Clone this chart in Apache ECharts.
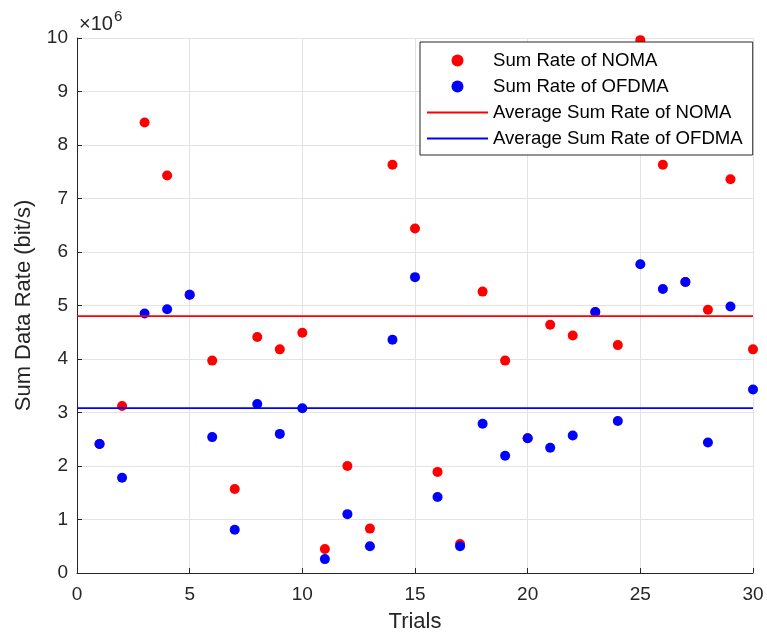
<!DOCTYPE html>
<html>
<head>
<meta charset="utf-8">
<script src="https://cdn.jsdelivr.net/npm/echarts@6/dist/echarts.min.js"></script>
<style>
html,body{margin:0;padding:0;background:#fff;}
#chart{width:767px;height:639px;}
</style>
</head>
<body>
<div id="chart"></div>
<script>
// Trials 1..30
const trials = [1,2,3,4,5,6,7,8,9,10,11,12,13,14,15,16,17,18,19,20,21,22,23,24,25,26,27,28,29,30];
// Sum rate values (×10^6 bit/s)
const nomaRate = [2.41,3.12,8.42,7.43,5.20,3.97,1.57,4.41,4.18,4.49,0.45,2.00,0.83,7.63,6.44,1.89,0.54,5.26,3.97,2.52,4.64,4.44,4.88,4.26,9.96,7.63,5.44,4.92,7.36,4.18];
const ofdmaRate = [2.41,1.78,4.85,4.93,5.20,2.54,0.81,3.16,2.60,3.08,0.26,1.10,0.50,4.36,5.53,1.42,0.50,2.79,2.19,2.52,2.34,2.57,4.88,2.84,5.77,5.31,5.44,2.44,4.98,3.43];
// Average lines (×10^6 bit/s)
const avgNoma = 4.80;
const avgOfdma = 3.08;
const xRange = [0, 30];
const scale = 1e6;

const seriesNames = ['Sum Rate of NOMA','Sum Rate of OFDMA','Average Sum Rate of NOMA','Average Sum Rate of OFDMA'];

const font = '"Liberation Sans", Arial, Helvetica, sans-serif';
const textColor = '#262626';
const lineIcon = 'path://M0,0H60V2H0Z';

const chart = echarts.init(document.getElementById('chart'));
chart.setOption({
  animation: false,
  backgroundColor: '#ffffff',
  textStyle: {fontFamily: font, color: textColor},
  grid: {left: 77, right: 14, top: 38, bottom: 66, containLabel: false},
  graphic: [
    {type: 'text', left: 79, top: 14, style: {text: '×10', font: '20px ' + font, fill: textColor}},
    {type: 'text', left: 114, top: 9, style: {text: '6', font: '15px ' + font, fill: textColor}}
  ],
  legend: {
    orient: 'vertical',
    left: 420, top: 42,
    padding: [9, 10, 7, 7],
    backgroundColor: '#ffffff',
    borderColor: '#262626',
    borderWidth: 1,
    itemWidth: 61, itemHeight: 12, itemGap: 7,
    textStyle: {fontSize: 18.6, fontFamily: font, color: '#000', lineHeight: 18},
    data: [
      {name: seriesNames[0], icon: 'circle'},
      {name: seriesNames[1], icon: 'circle'},
      {name: seriesNames[2], icon: lineIcon},
      {name: seriesNames[3], icon: lineIcon}
    ]
  },
  xAxis: {
    type: 'value', min: xRange[0], max: xRange[1], interval: 5,
    name: 'Trials', nameLocation: 'middle', nameGap: 38,
    nameTextStyle: {fontSize: 22, color: textColor, fontFamily: font},
    axisLine: {show: true, onZero: false, lineStyle: {color: '#262626', width: 1}},
    axisTick: {show: true, inside: true, length: 5, lineStyle: {color: '#262626'}},
    axisLabel: {fontSize: 19, color: textColor, margin: 12, fontFamily: font},
    splitLine: {show: true, lineStyle: {color: '#e3e3e3', width: 1}}
  },
  yAxis: {
    type: 'value', min: 0, max: 10 * scale, interval: scale,
    name: 'Sum Data Rate (bit/s)', nameLocation: 'middle', nameGap: 42,
    nameTextStyle: {fontSize: 22, color: textColor, fontFamily: font},
    axisLine: {show: true, onZero: false, lineStyle: {color: '#262626', width: 1}},
    axisTick: {show: true, inside: true, length: 5, lineStyle: {color: '#262626'}},
    axisLabel: {fontSize: 19, color: textColor, margin: 9, fontFamily: font,
      formatter: v => String(Math.round(v / scale))},
    splitLine: {show: true, lineStyle: {color: '#e3e3e3', width: 1}}
  },
  series: [
    {
      name: seriesNames[0], type: 'scatter', symbol: 'circle', symbolSize: 10,
      itemStyle: {color: '#ff0000', opacity: 1},
      data: trials.map((t, i) => [t, nomaRate[i] * scale]), z: 2
    },
    {
      name: seriesNames[1], type: 'scatter', symbol: 'circle', symbolSize: 10,
      itemStyle: {color: '#0000ff', opacity: 1},
      data: trials.map((t, i) => [t, ofdmaRate[i] * scale]), z: 3
    },
    {
      name: seriesNames[2], type: 'line', symbol: 'none', showSymbol: false,
      lineStyle: {color: '#ff0000', width: 1.8}, itemStyle: {color: '#ff0000'},
      data: [[xRange[0], avgNoma * scale], [xRange[1], avgNoma * scale]], z: 4
    },
    {
      name: seriesNames[3], type: 'line', symbol: 'none', showSymbol: false,
      lineStyle: {color: '#0000ff', width: 1.8}, itemStyle: {color: '#0000ff'},
      data: [[xRange[0], avgOfdma * scale], [xRange[1], avgOfdma * scale]], z: 5
    }
  ]
});
</script>
</body>
</html>
